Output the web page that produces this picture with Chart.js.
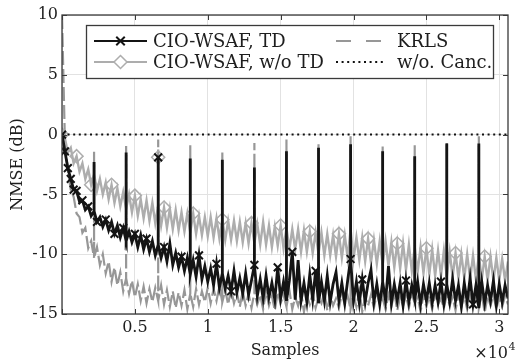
<!DOCTYPE html>
<html><head><meta charset="utf-8">
<script src="https://cdn.jsdelivr.net/npm/chart.js@4/dist/chart.umd.min.js"></script>
<style>html,body{margin:0;padding:0;background:#fff}#c{display:block}</style>
</head><body>
<canvas id="c" width="516" height="360"></canvas>
<script>
// ---------- data ----------
const seriesNames = ['CIO-WSAF, TD', 'CIO-WSAF, w/o TD', 'KRLS', 'w/o. Canc.'];
const sampleStep = 200;                 // samples between stored points (index -> sample)
const xTickValues = [0, 5000, 10000, 15000, 20000, 25000, 30000];
const yTickValues = [10, 5, 0, -5, -10, -15];
const xMaxSamples = 30600;

const tdNMSE = [
 0,-1.4,-2.8,-3.7,-4.6,-4.7,-5.6,-5.5,-6.3,-6.0,-6.8,-6.4,-7.3,-6.9,-7.7,-7.1,-8.0,-7.3,-8.3,-7.6,
 -8.6,-7.8,-8.9,-8.1,-9.0,-8.3,-9.4,-8.4,-9.6,-8.7,-9.8,-8.9,-10.1,-9.2,-10.3,-9.4,-10.6,-9.1,-10.9,-9.9,
 -11.1,-10.2,-11.4,-10.3,-11.7,-10.5,-11.9,-10.1,-12.1,-11.0,-12.3,-11.2,-12.6,-10.8,-12.8,-11.6,-12.9,-11.8,-13.1,-11.4,
 -13.2,-12.0,-13.3,-11.6,-13.4,-12.2,-10.9,-13.5,-12.1,-13.7,-11.8,-13.6,-12.4,-13.8,-11.1,-13.7,-12.3,-13.9,-12.2,-9.8,
 -13.8,-10.5,-13.9,-12.4,-14.0,-11.7,-13.8,-11.4,-14.1,-12.3,-13.9,-11.8,-14.0,-12.5,-11.5,-13.9,-12.4,-14.1,-12.2,-10.4,
 -13.9,-12.3,-14.1,-12.1,-14.0,-12.4,-11.3,-14.0,-12.5,-14.2,-12.3,-13.9,-11.0,-14.1,-12.5,-13.9,-12.4,-14.3,-12.2,-14.0,
 -12.6,-13.8,-12.3,-14.2,-12.5,-13.9,-12.4,-14.1,-12.6,-14.0,-12.3,-14.2,-12.5,-14.0,-12.1,-13.9,-12.6,-14.4,-12.4,-14.0,
 -12.0,-14.2,-12.6,-14.5,-12.3,-14.1,-12.6,-13.9,-12.2,-14.3,-12.5,-14.0,-12.6,-13.7
];
const woTdNMSE = [
 0,-0.3,-1.5,-1.1,-2.4,-1.8,-3.1,-2.4,-3.7,-2.9,-4.2,-3.3,-4.7,-3.7,-5.0,-4.0,-5.4,-4.2,-5.7,-4.5,
 -6.0,-4.8,-6.2,-5.0,-6.5,-5.1,-6.8,-5.4,-7.0,-5.5,-7.2,-5.7,-7.4,-5.9,-7.6,-6.1,-7.8,-6.2,-7.9,-6.3,
 -8.0,-6.5,-8.1,-6.6,-8.2,-6.6,-8.3,-6.8,-8.4,-6.9,-8.5,-6.9,-8.6,-7.0,-8.7,-7.1,-8.8,-7.2,-8.8,-7.2,
 -8.9,-7.3,-9.0,-7.4,-9.1,-7.4,-9.1,-7.5,-9.2,-7.3,-9.2,-7.6,-9.4,-7.7,-9.3,-7.6,-9.5,-7.8,-9.6,-7.9,
 -9.6,-7.9,-9.8,-8.0,-9.8,-8.1,-9.9,-8.2,-10.0,-8.2,-10.1,-8.3,-10.1,-8.4,-10.2,-8.3,-10.3,-8.4,-10.3,-7.9,
 -10.4,-8.6,-10.5,-8.6,-10.6,-8.7,-10.7,-8.8,-10.8,-8.9,-10.9,-8.9,-11.0,-9.0,-11.1,-9.1,-11.2,-9.1,-11.3,-9.2,
 -11.4,-9.4,-11.5,-9.4,-11.6,-9.5,-11.7,-9.6,-11.8,-9.7,-11.8,-9.7,-11.9,-9.8,-11.9,-9.9,-12.0,-10.0,-12.0,-10.0,
 -12.1,-10.1,-12.1,-10.1,-12.1,-10.2,-12.2,-10.2,-12.2,-10.3,-12.2,-10.4,-12.2,-10.6
];
const krlsNMSE = [
 10,-0.6,-3.0,-4.6,-5.2,-6.6,-6.9,-8.2,-7.8,-9.5,-8.9,-10.3,-9.4,-10.9,-10.0,-11.6,-10.6,-12.3,-11.1,-12.6,
 -11.5,-13.1,-12.0,-13.3,-12.2,-13.6,-12.5,-13.9,-12.7,-14.1,-12.9,-14.0,-12.8,-13.9,-12.6,-14.2,-13.0,-14.4,-13.1,-14.5,
 -13.2,-14.3,-13.0,-14.6,-13.3,-14.4,-12.9,-14.2,-13.1,-14.0,-12.8,-14.1,-12.9,-13.9,-12.7,-14.0,-13.0,-14.2,-12.9,-14.1,
 -13.2,-14.4,-13.1,-14.3,-13.3,-14.5,-13.2,-14.2,-13.4,-14.6,-13.1,-14.3,-13.5,-14.7,-13.2,-14.1,-13.4,-14.4,-13.0,-14.6,
 -13.6,-14.3,-13.2,-14.8,-13.5,-14.2,-13.3,-14.5,-13.6,-14.1,-13.2,-14.7,-13.4,-14.3,-13.7,-14.5,-13.3,-14.2,-13.5,-14.6,
 -13.4,-14.4,-13.1,-14.8,-13.6,-14.3,-13.4,-14.5,-13.3,-14.2,-13.7,-14.6,-13.4,-14.4,-13.2,-14.7,-13.6,-14.3,-13.5,-14.5,
 -13.3,-14.1,-13.6,-14.8,-13.4,-14.4,-13.5,-14.6,-13.3,-14.2,-13.7,-14.5,-13.4,-14.3,-13.6,-14.7,-13.3,-14.4,-13.5,-14.6,
 -13.4,-14.2,-13.6,-14.5,-13.3,-14.9,-13.5,-14.3,-13.4,-14.6,-13.6,-14.4,-13.5,-14.2
];
const spikeSamples  = [2200, 4400, 6600, 8800, 11000, 13200, 15400, 17600, 19800, 22000, 24200, 26400, 28600];
const tdSpikeTop    = [-2.3, -1.5, -1.9, -2.0, -2.1, -2.75, -1.4, -1.1, -0.8, -1.4, -1.8, -0.75, -0.75];
const woTdSpikeTop  = [-2.5, -1.7, -1.9, -2.2, -2.3, -2.9, -1.6, -1.3, -1.0, -1.6, -2.0, -0.9, -0.9];
const krlsSpikeTop  = [-1.4, -0.8, -0.4, -0.9, -1.5, -0.7, -0.4, -0.8, -0.14, -1.0, -0.9, -0.7, -0.14];
const tdMarkerSamples = [0, 200, 400, 600, 800, 1000, 1400, 1800, 2400, 3000, 3600, 4200, 5000, 5800, 7000, 8200,
  9400, 10600, 11600, 13200, 14800, 15800, 17400, 19800, 20600, 23600, 26000, 28200];
const tdSpikeMarkers = [6600];
const woTdMarkerSamples = [0, 1000, 2000, 3400, 5000, 7000, 9000, 11000, 13000, 15000, 17000, 19000,
  21000, 23000, 25000, 27000, 29000];
const woTdSpikeMarkers = [6600];
const noCancSamples = [0, 30600];
const noCancNMSE = [0, 0];

// ---------- build point tables ----------
function buildPoints(values, tops, marks, spikeMarks) {
  const mset = new Set(marks), sset = new Set(spikeMarks);
  const pts = [];
  values.forEach((v, i) => {
    const x = i * sampleStep;
    pts.push({x: x, y: v, m: mset.has(x)});
    const k = spikeSamples.indexOf(x);
    if (k >= 0) {
      pts.push({x: x, y: tops[k], m: sset.has(x)});
      pts.push({x: x, y: v, m: false});
    }
  });
  return pts;
}
const tdPts = buildPoints(tdNMSE, tdSpikeTop, tdMarkerSamples, tdSpikeMarkers);
const woTdPts = buildPoints(woTdNMSE, woTdSpikeTop, woTdMarkerSamples, woTdSpikeMarkers);
const krlsPts = buildPoints(krlsNMSE, krlsSpikeTop, [], []);
const noCancPts = noCancSamples.map((x, i) => ({x: x, y: noCancNMSE[i], m: false}));

const FONT = 'DejaVu Serif';
const TXT = '#1e1e1e';
const C_TD = '#141414', C_WO = '#adadad', C_KR = '#979797';
Chart.defaults.font.family = FONT;
Chart.defaults.color = TXT;

const styles = {
  td:   {color: C_TD, width: 2, dash: [], marker: 'crossRot', r: 6, bw: 2},
  wo:   {color: C_WO, width: 2, dash: [], marker: 'rectRot', r: 6.5, bw: 1.5},
  kr:   {color: C_KR, width: 2, dash: [15, 15]},
  nc:   {color: '#111', width: 2, dash: [2, 3.6]}
};

function drawMarker(ctx, type, x, y, r, color, bw) {
  ctx.save();
  ctx.strokeStyle = color; ctx.lineWidth = bw; ctx.setLineDash([]);
  ctx.beginPath();
  if (type === 'crossRot') {
    const d = r * Math.SQRT1_2;
    ctx.moveTo(x - d, y - d); ctx.lineTo(x + d, y + d);
    ctx.moveTo(x - d, y + d); ctx.lineTo(x + d, y - d);
  } else {
    ctx.moveTo(x, y - r); ctx.lineTo(x + r, y); ctx.lineTo(x, y + r); ctx.lineTo(x - r, y); ctx.closePath();
    ctx.fillStyle = '#fff'; ctx.fill();
  }
  ctx.stroke();
  ctx.restore();
}

const framePlugin = {
  id: 'frame',
  afterDraw(chart) {
    const ctx = chart.ctx, a = chart.chartArea;
    const xs = chart.scales.x, ys = chart.scales.y;
    ctx.save();
    // inward ticks
    ctx.strokeStyle = '#3a3a3a'; ctx.lineWidth = 1; ctx.setLineDash([]);
    ctx.beginPath();
    xTickValues.forEach(v => { const px = Math.round(xs.getPixelForValue(v)) + 0.5;
      ctx.moveTo(px, a.top); ctx.lineTo(px, a.top + 5); ctx.moveTo(px, a.bottom); ctx.lineTo(px, a.bottom - 5); });
    yTickValues.forEach(v => { const py = Math.round(ys.getPixelForValue(v)) + 0.5;
      ctx.moveTo(a.left, py); ctx.lineTo(a.left + 5, py); ctx.moveTo(a.right, py); ctx.lineTo(a.right - 5, py); });
    ctx.stroke();
    // box
    ctx.strokeStyle = '#3a3a3a'; ctx.lineWidth = 1.3;
    ctx.strokeRect(a.left, a.top, a.right - a.left, a.bottom - a.top);
    // exponent
    ctx.fillStyle = TXT; ctx.textBaseline = 'alphabetic';
    ctx.font = '16px "' + FONT + '"'; ctx.textAlign = 'right';
    ctx.fillText('\u00d710', 508, 358);
    ctx.font = '11px "' + FONT + '"'; ctx.textAlign = 'left';
    ctx.fillText('4', 508.5, 350);
    // legend
    const L = {x: 86, y: 25, w: 407, h: 53};
    ctx.fillStyle = '#fff'; ctx.fillRect(L.x, L.y, L.w, L.h);
    ctx.strokeStyle = '#3a3a3a'; ctx.lineWidth = 1.3; ctx.strokeRect(L.x + 0.5, L.y + 0.5, L.w, L.h);
    const rows = [41, 62];
    const items = [
      {s: styles.td, name: seriesNames[0], x0: 94, x1: 147, tx: 153, y: rows[0]},
      {s: styles.wo, name: seriesNames[1], x0: 94, x1: 147, tx: 153, y: rows[1]},
      {s: styles.kr, name: seriesNames[2], x0: 336, x1: 385, tx: 397, y: rows[0]},
      {s: styles.nc, name: seriesNames[3], x0: 336, x1: 385, tx: 397, y: rows[1]}
    ];
    items.forEach(it => {
      ctx.save();
      ctx.strokeStyle = it.s.color; ctx.lineWidth = it.s.width;
      ctx.setLineDash(it.s.dash);
      ctx.beginPath(); ctx.moveTo(it.x0, it.y); ctx.lineTo(it.x1, it.y); ctx.stroke();
      ctx.restore();
      if (it.s.marker) drawMarker(ctx, it.s.marker, (it.x0 + it.x1) / 2, it.y, it.s.r, it.s.color, it.s.bw);
      ctx.fillStyle = TXT; ctx.font = '18px "' + FONT + '"';
      ctx.textAlign = 'left'; ctx.textBaseline = 'middle';
      ctx.fillText(it.name, it.tx, it.y + 1);
    });
    ctx.restore();
  }
};

const markR = (r) => (c) => (c.raw && c.raw.m) ? r : 0;

new Chart(document.getElementById('c'), {
  type: 'line',
  data: {
    datasets: [
      {label: seriesNames[0], data: tdPts, borderColor: C_TD, borderWidth: 2.8, order: 1,
       pointStyle: 'crossRot', pointRadius: markR(5.5), pointBorderColor: C_TD, pointBorderWidth: 2,
       pointBackgroundColor: 'rgba(0,0,0,0)', tension: 0},
      {label: seriesNames[1], data: woTdPts, borderColor: C_WO, borderWidth: 2.4, order: 3,
       pointStyle: 'rectRot', pointRadius: markR(6.5), pointBorderColor: C_WO, pointBorderWidth: 1.5,
       pointBackgroundColor: 'rgba(0,0,0,0)', tension: 0},
      {label: seriesNames[2], data: krlsPts, borderColor: C_KR, borderWidth: 2.2, borderDash: [14, 4], order: 4,
       pointRadius: 0, tension: 0},
      {label: seriesNames[3], data: noCancPts, borderColor: '#111', borderWidth: 2, borderDash: [2, 3.6], order: 2,
       pointRadius: 0, tension: 0}
    ]
  },
  options: {
    responsive: false, animation: false, devicePixelRatio: 1,
    layout: {padding: {top: 15, right: 1, left: 0, bottom: 0}},
    plugins: {legend: {display: false}, tooltip: {enabled: false}},
    scales: {
      x: {
        type: 'linear', min: 0, max: xMaxSamples,
        afterFit: s => { s.height = 46; },
        afterBuildTicks: s => { s.ticks = xTickValues.map(v => ({value: v})); },
        grid: {color: '#e2e2e2', drawTicks: false, lineWidth: 1},
        border: {display: false},
        ticks: {autoSkip: false, maxRotation: 0, padding: 4, font: {size: 16}, color: TXT,
                callback: v => v === 0 ? '' : String(v / 10000)},
        title: {display: true, text: 'Samples', font: {size: 16}, color: TXT, padding: {top: 0, bottom: 0}}
      },
      y: {
        min: -15, max: 10,
        afterFit: s => { s.width = 62; },
        afterBuildTicks: s => { s.ticks = yTickValues.map(v => ({value: v})); },
        grid: {color: '#e2e2e2', drawTicks: false, lineWidth: 1},
        border: {display: false},
        ticks: {padding: 4, font: {size: 16}, color: TXT, callback: v => String(v)},
        title: {display: true, text: 'NMSE (dB)', font: {size: 16}, color: TXT, padding: {top: 8, bottom: 0}}
      }
    }
  },
  plugins: [framePlugin]
});
</script>
</body></html>
